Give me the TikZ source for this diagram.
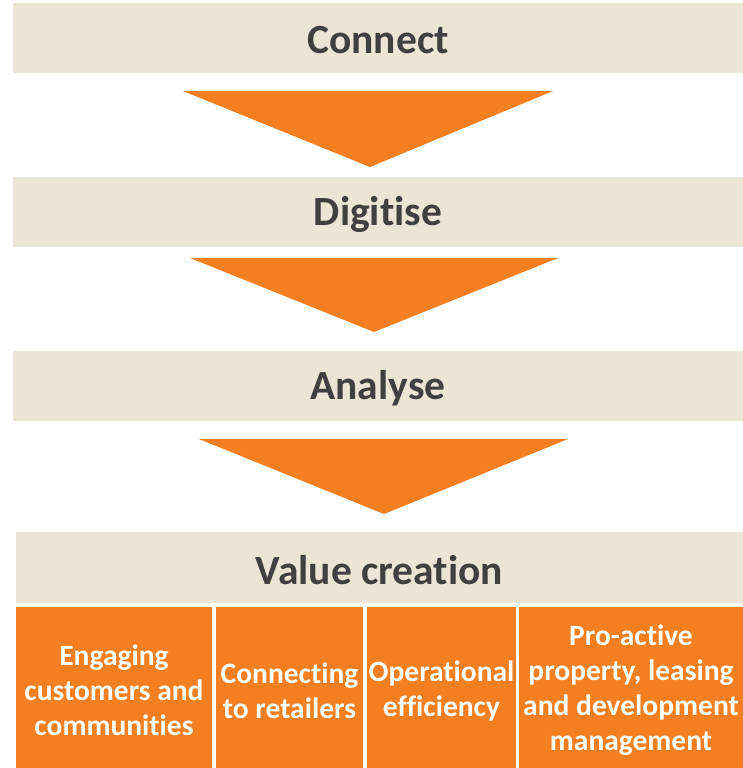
\documentclass[tikz,border=0pt]{standalone}
\usepackage{fontspec}
\setmainfont{Carlito}[Ligatures={NoCommon,NoRequired}]
\definecolor{beige}{HTML}{EBE5D6}
\definecolor{flow}{HTML}{F47F20}
\definecolor{ink}{HTML}{404040}
\begin{document}
\begin{tikzpicture}[x=1pt,y=-1pt,
  stage/.style={fill=beige,draw=none,inner sep=0pt,minimum height=70pt,
    text=ink,font=\bfseries\fontsize{41.5}{48}\selectfont},
  stagetext/.style={text=ink,inner sep=0pt,font=\bfseries\fontsize{41.5}{48}\selectfont},
  pillar/.style={fill=flow,draw=none,inner sep=0pt,minimum height=161pt},
  pillartext/.style={text=white,inner sep=0pt,align=center,
    font=\bfseries\fontsize{29.5}{35}\selectfont},
  chevron/.style={fill=flow,draw=none}]
\useasboundingbox (0,0) rectangle (743,768);

% stage bars
\node[stage,minimum width=730pt] (connect) at (378,38) {};
\node[stage,minimum width=730pt] (digitise) at (378,212) {};
\node[stage,minimum width=730pt] (analyse) at (378,385.5) {};
\node[stage,minimum width=727pt,minimum height=71pt] (value) at (379.5,567.5) {};
\node[stagetext] (tconnect) at ([yshift=-2.5pt]connect.center) {Connect};
\node[stagetext] (tdigitise) at ([yshift=-2.5pt]digitise.center) {Digitise};
\node[stagetext] (tanalyse) at ([yshift=-2.5pt]analyse.center) {Analyse};
\node[stagetext] (tvalue) at ([yshift=-2.5pt]value.center) {Value creation};

% downward triangles between stages
\fill[chevron] (183,91) -- (553,91) -- (370,167) -- cycle;
\fill[chevron] (190,258) -- (558,258) -- (374,332) -- cycle;
\fill[chevron] (199,439) -- (568,439) -- (384,514) -- cycle;

% value-creation pillars
\node[pillar,minimum width=196pt] (p1) at (114,687.5) {};
\node[pillar,minimum width=147pt] (p2) at (289.5,687.5) {};
\node[pillar,minimum width=149pt] (p3) at (441.5,687.5) {};
\node[pillar,minimum width=224pt] (p4) at (631,687.5) {};
\node[pillartext] (t1) at ([yshift=-3pt]p1.center) {Engaging\\customers and\\communities};
\node[pillartext] (t2) at ([yshift=-3pt]p2.center) {Connecting\\to retailers};
\node[pillartext] (t3) at ([yshift=-3pt]p3.center) {Operational\\efficiency};
\node[pillartext] (t4) at ([yshift=-3pt]p4.center) {Pro-active\\property, leasing\\and development\\management};
\end{tikzpicture}
\end{document}
